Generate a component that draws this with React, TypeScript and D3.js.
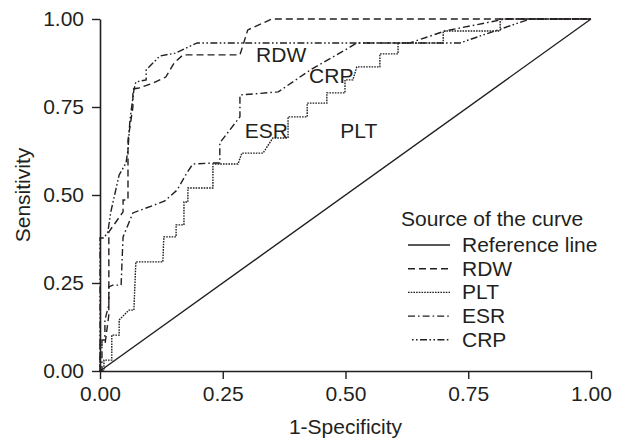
import React, { useEffect, useRef } from 'react';
import * as d3 from 'd3';

// ROC curves: 1-specificity vs sensitivity for four markers + reference line.

const W = 623;
const H = 439;
const LEFT = 100;
const RIGHT = 591;
const TOP = 19;
const BOTTOM = 371;

const TICKS = [0, 0.25, 0.5, 0.75, 1];

type Pt = [number, number];

const refLine: Pt[] = [
  [0, 0],
  [1, 1],
];

const rdw: Pt[] = [
  [0, 0], [0, 0.074], [0.01, 0.074], [0.018, 0.159], [0.018, 0.395], [0.047, 0.452],
  [0.047, 0.486], [0.057, 0.486], [0.057, 0.656], [0.067, 0.75], [0.067, 0.801],
  [0.079, 0.804], [0.108, 0.818], [0.134, 0.835], [0.151, 0.875], [0.169, 0.898],
  [0.285, 0.898], [0.301, 0.969], [0.35, 1], [1, 1],
];

const plt: Pt[] = [
  [0, 0], [0.008, 0], [0.008, 0.031], [0.024, 0.031], [0.024, 0.102], [0.039, 0.102],
  [0.039, 0.145], [0.059, 0.173], [0.069, 0.173], [0.073, 0.31], [0.128, 0.31],
  [0.13, 0.381], [0.155, 0.381], [0.155, 0.415], [0.171, 0.415], [0.171, 0.48],
  [0.179, 0.48], [0.179, 0.52], [0.23, 0.52], [0.23, 0.588], [0.281, 0.588],
  [0.289, 0.619], [0.332, 0.619], [0.352, 0.662], [0.383, 0.662], [0.383, 0.722],
  [0.422, 0.722], [0.422, 0.761], [0.462, 0.761], [0.462, 0.79], [0.499, 0.79],
  [0.499, 0.827], [0.515, 0.827], [0.523, 0.864], [0.57, 0.864], [0.57, 0.901],
  [0.607, 0.901], [0.607, 0.932], [0.699, 0.932], [0.699, 0.966], [0.815, 0.966],
  [0.815, 1], [1, 1],
];

const esr: Pt[] = [
  [0, 0], [0.004, 0], [0.004, 0.088], [0.01, 0.088], [0.01, 0.145], [0.018, 0.188],
  [0.018, 0.239], [0.026, 0.244], [0.043, 0.244], [0.045, 0.315], [0.047, 0.381],
  [0.067, 0.449], [0.094, 0.463], [0.132, 0.483], [0.157, 0.514], [0.177, 0.563],
  [0.189, 0.588], [0.23, 0.591], [0.244, 0.591], [0.244, 0.648], [0.285, 0.722],
  [0.285, 0.784], [0.363, 0.793], [0.428, 0.855], [0.509, 0.92], [0.523, 0.932],
  [0.631, 0.932], [0.703, 0.966], [0.825, 1], [1, 1],
];

const crp: Pt[] = [
  [0, 0], [0, 0.378], [0.008, 0.378], [0.016, 0.395], [0.022, 0.452], [0.039, 0.557],
  [0.053, 0.591], [0.057, 0.628], [0.061, 0.713], [0.069, 0.798], [0.073, 0.821],
  [0.094, 0.827], [0.094, 0.855], [0.122, 0.895], [0.153, 0.903], [0.198, 0.932],
  [0.733, 0.932], [0.876, 1], [1, 1],
];

const seriesNames = ['Reference line', 'RDW', 'PLT', 'ESR', 'CRP'];
const seriesData = [refLine, rdw, plt, esr, crp];
const dashes = ['none', '7,4', '1.6,1.1', '7,3,1.6,3', '1.6,2.4,1.6,2.4,7,2.4'];

// in-plot curve labels: [text, fpr at centre, tpr at baseline]
const curveLabels: [string, number, number][] = [
  ['RDW', 0.369, 0.878],
  ['CRP', 0.471, 0.818],
  ['ESR', 0.339, 0.662],
  ['PLT', 0.527, 0.662],
];

const INK = '#231f20';
const FONT = '"Liberation Sans", Arial, Helvetica, sans-serif';

export default function App() {
  const ref = useRef<SVGSVGElement>(null);

  useEffect(() => {
    const svg = d3.select(ref.current).attr('width', W).attr('height', H);
    svg.selectAll('*').remove();
    svg.append('rect').attr('width', W).attr('height', H).attr('fill', 'white');

    const x = d3.scaleLinear().domain([0, 1]).range([LEFT, RIGHT]);
    const y = d3.scaleLinear().domain([0, 1]).range([BOTTOM, TOP]);

    const line = d3
      .line<Pt>()
      .x((d) => x(d[0]))
      .y((d) => y(d[1]));

    seriesData.forEach((s, i) => {
      svg
        .append('path')
        .datum(s)
        .attr('fill', 'none')
        .attr('stroke', INK)
        .attr('stroke-width', 1.4)
        .attr('stroke-dasharray', dashes[i])
        .attr('d', line);
    });

    const styleAxis = (g: any) => {
      g.select('.domain').attr('stroke', INK).attr('stroke-width', 1.6);
      g.selectAll('.tick line').attr('stroke', INK).attr('stroke-width', 1.4);
      g.selectAll('.tick text')
        .attr('fill', INK)
        .style('font-family', FONT)
        .style('font-size', '21px');
    };

    svg
      .append('g')
      .attr('transform', `translate(0,${BOTTOM})`)
      .call(
        d3.axisBottom(x).tickValues(TICKS).tickFormat(d3.format('.2f')).tickSize(8).tickSizeOuter(0).tickPadding(7),
      )
      .call(styleAxis);

    svg
      .append('g')
      .attr('transform', `translate(${LEFT},0)`)
      .call(
        d3.axisLeft(y).tickValues(TICKS).tickFormat(d3.format('.2f')).tickSize(8).tickSizeOuter(0).tickPadding(8),
      )
      .call(styleAxis);

    // Axis titles
    svg
      .append('text')
      .attr('x', x(0.5))
      .attr('y', 434)
      .attr('text-anchor', 'middle')
      .attr('fill', INK)
      .style('font-family', FONT)
      .style('font-size', '21px')
      .text('1-Specificity');

    svg
      .append('text')
      .attr('transform', `translate(30,${y(0.5)}) rotate(-90)`)
      .attr('text-anchor', 'middle')
      .attr('fill', INK)
      .style('font-family', FONT)
      .style('font-size', '21px')
      .text('Sensitivity');

    // Curve labels
    svg
      .append('g')
      .selectAll('text')
      .data(curveLabels)
      .enter()
      .append('text')
      .attr('x', (d) => x(d[1]))
      .attr('y', (d) => y(d[2]))
      .attr('text-anchor', 'middle')
      .attr('fill', INK)
      .style('font-family', FONT)
      .style('font-size', '21px')
      .text((d) => d[0]);

    // Legend
    const lg = svg.append('g').attr('transform', 'translate(401,226)');
    lg.append('text')
      .attr('x', 0)
      .attr('y', 0)
      .attr('fill', INK)
      .style('font-family', FONT)
      .style('font-size', '21px')
      .text('Source of the curve');

    seriesNames.forEach((name, i) => {
      const rowY = 26 + i * 23.7;
      lg.append('line')
        .attr('x1', i === 4 ? 11 : 7)
        .attr('x2', 49)
        .attr('y1', rowY - 7)
        .attr('y2', rowY - 7)
        .attr('stroke', INK)
        .attr('stroke-width', 1.4)
        .attr('stroke-dasharray', dashes[i]);
      lg.append('text')
        .attr('x', 61)
        .attr('y', rowY)
        .attr('fill', INK)
        .style('font-family', FONT)
        .style('font-size', '21px')
        .text(name);
    });
  }, []);

  return <svg ref={ref} style={{ position: 'absolute', left: 0, top: 0 }} />;
}
